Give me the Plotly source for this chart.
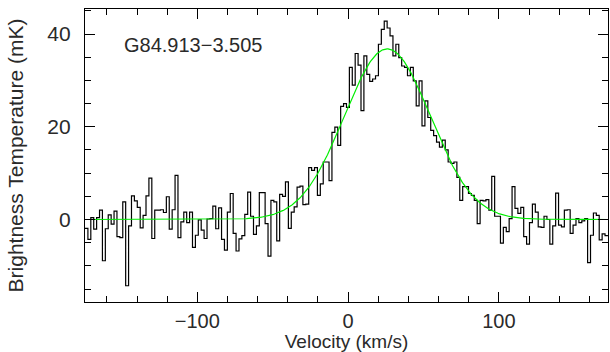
import numpy as np
import plotly.graph_objects as go

# ---- data ----
v_first_edge = -174.5      # km/s, left edge of first channel
channel_width = 1.927      # km/s

temp_A = [-1.9, -4.3, 0.4, -2.1, 0.4, 2.0, -8.9, -2.0, 1.0, -1.0, 1.8, -3.7, -3.9, 3.8, -14.3,
          -1.4, 5.1, 4.0, 2.6, -1.8, 0.9, 5.1, 8.9, -4.1, 2.0, 2.0, 2.1, 1.5, 4.9, -2.1, 2.1]
temp_B = [9.5, -3.9, -0.5, 1.6, -0.7, 1.6, -6.0, -3.4, -0.1, -2.3, -4.1, 0.1, 0.2, 2.9, -2.0,
          2.5, -4.3, -6.6, 1.6, 5.6, -3.0, -6.8, -4.2, -3.5, 1.1, 5.9, 0.7, -3.2, -1.4, 5.8, 5.8]
temp_C = [-0.9, -7.9, 4.1, 3.8, -4.6, 5.4, 5.0, 8.1, -1.9, 1.6, 2.7, 7.0, 7.2, 3.2, 3.3,
          11.2, 10.6, 11.2, 5.2, 7.7, 12.4, 12.4, 8.4, 18.8, 19.9, 16.0, 24.4, 25.0, 24.2, 32.8]
temp_D = [29.0, 35.8, 33.3, 23.5, 35.3, 31.3, 29.8, 30.3, 31.0, 37.8, 41.0, 42.8, 41.3, 39.6, 35.3,
          37.8, 34.9, 33.1, 32.8, 31.0, 32.8, 29.9, 24.5, 29.9, 20.2, 25.6, 22.0, 19.2, 18.1, 16.7, 15.6]
temp_E = [17.1, 15.0, 12.4, 12.1, 12.4, 9.1, 4.1, 7.1, 7.1, 5.6, 5.2, 4.1, -0.9, 4.1, 4.0, 4.3,
          2.0, 9.3, 0.7, 0.7, -5.1, -1.7, -2.6, 0.2, 7.1, 2.4, 1.3, 2.6, -3.7, -5.3, -0.7, 3.3]
temp_F = [1.6, -1.6, -1.7, 0.7, 0.0, -5.3, -1.4, 5.7, -1.2, -1.6, 2.0, 2.1, -3.0, -1.2, 0.2,
          -0.7, -0.3, 0.2, -9.3, -3.4, 1.4, 0.9, -4.4, -3.1, -3.5]

# Gaussian fit parameters
fit_amp = 36.8       # mK
fit_center = 26.0    # km/s
fit_sigma = 28.5     # km/s

source_name = "G84.913\u22123.505"
x_range = [-174.5, 172.4]
y_range = [-17.8, 45.4]

# ---- build ----
temperature = temp_A + temp_B + temp_C + temp_D + temp_E + temp_F
n = len(temperature)
edges = v_first_edge + channel_width * np.arange(n + 1)
y_steps = temperature + [temperature[-1]]

v_fit = np.linspace(x_range[0], x_range[1], 600)
t_fit = fit_amp * np.exp(-0.5 * ((v_fit - fit_center) / fit_sigma) ** 2)

fig = go.Figure()
fig.add_trace(go.Scatter(x=edges, y=y_steps, mode="lines", line_shape="hv",
                         line=dict(color="black", width=1.2), hoverinfo="skip"))
fig.add_trace(go.Scatter(x=v_fit, y=t_fit, mode="lines",
                         line=dict(color="#00ee00", width=1.2), hoverinfo="skip"))

font_family = "Liberation Sans"
txt_color = "#2a2a2a"

fig.add_annotation(x=-150, y=37.6, xref="x", yref="y", text=source_name, showarrow=False,
                   xanchor="left", yanchor="middle",
                   font=dict(family=font_family, size=20, color=txt_color))

axis_common = dict(showline=True, linecolor="black", linewidth=1.3, mirror="allticks",
                   ticks="inside", ticklen=10, tickwidth=1.3, tickcolor="black",
                   showgrid=False, zeroline=False, automargin=False)

fig.update_xaxes(range=x_range, tick0=0, dtick=100, ticklabelstandoff=1,
                 tickfont=dict(family=font_family, size=20, color=txt_color),
                 minor=dict(ticks="inside", ticklen=6, dtick=20, tick0=0,
                            tickcolor="black", tickwidth=1.3),
                 title=dict(text="Velocity (km/s)", standoff=3,
                            font=dict(family=font_family, size=19, color=txt_color)),
                 **axis_common)
fig.update_yaxes(range=y_range, tick0=0, dtick=20, ticklabelstandoff=9,
                 tickfont=dict(family=font_family, size=21, color=txt_color),
                 minor=dict(ticks="inside", ticklen=6, dtick=5, tick0=0,
                            tickcolor="black", tickwidth=1.3),
                 title=dict(text="Brightness Temperature (mK)", standoff=17,
                            font=dict(family=font_family, size=21, color=txt_color)),
                 **axis_common)

fig.update_layout(width=610, height=352, margin=dict(l=85, r=2, t=9, b=50),
                  plot_bgcolor="white", paper_bgcolor="white", showlegend=False)

fig.write_html("out.html")
